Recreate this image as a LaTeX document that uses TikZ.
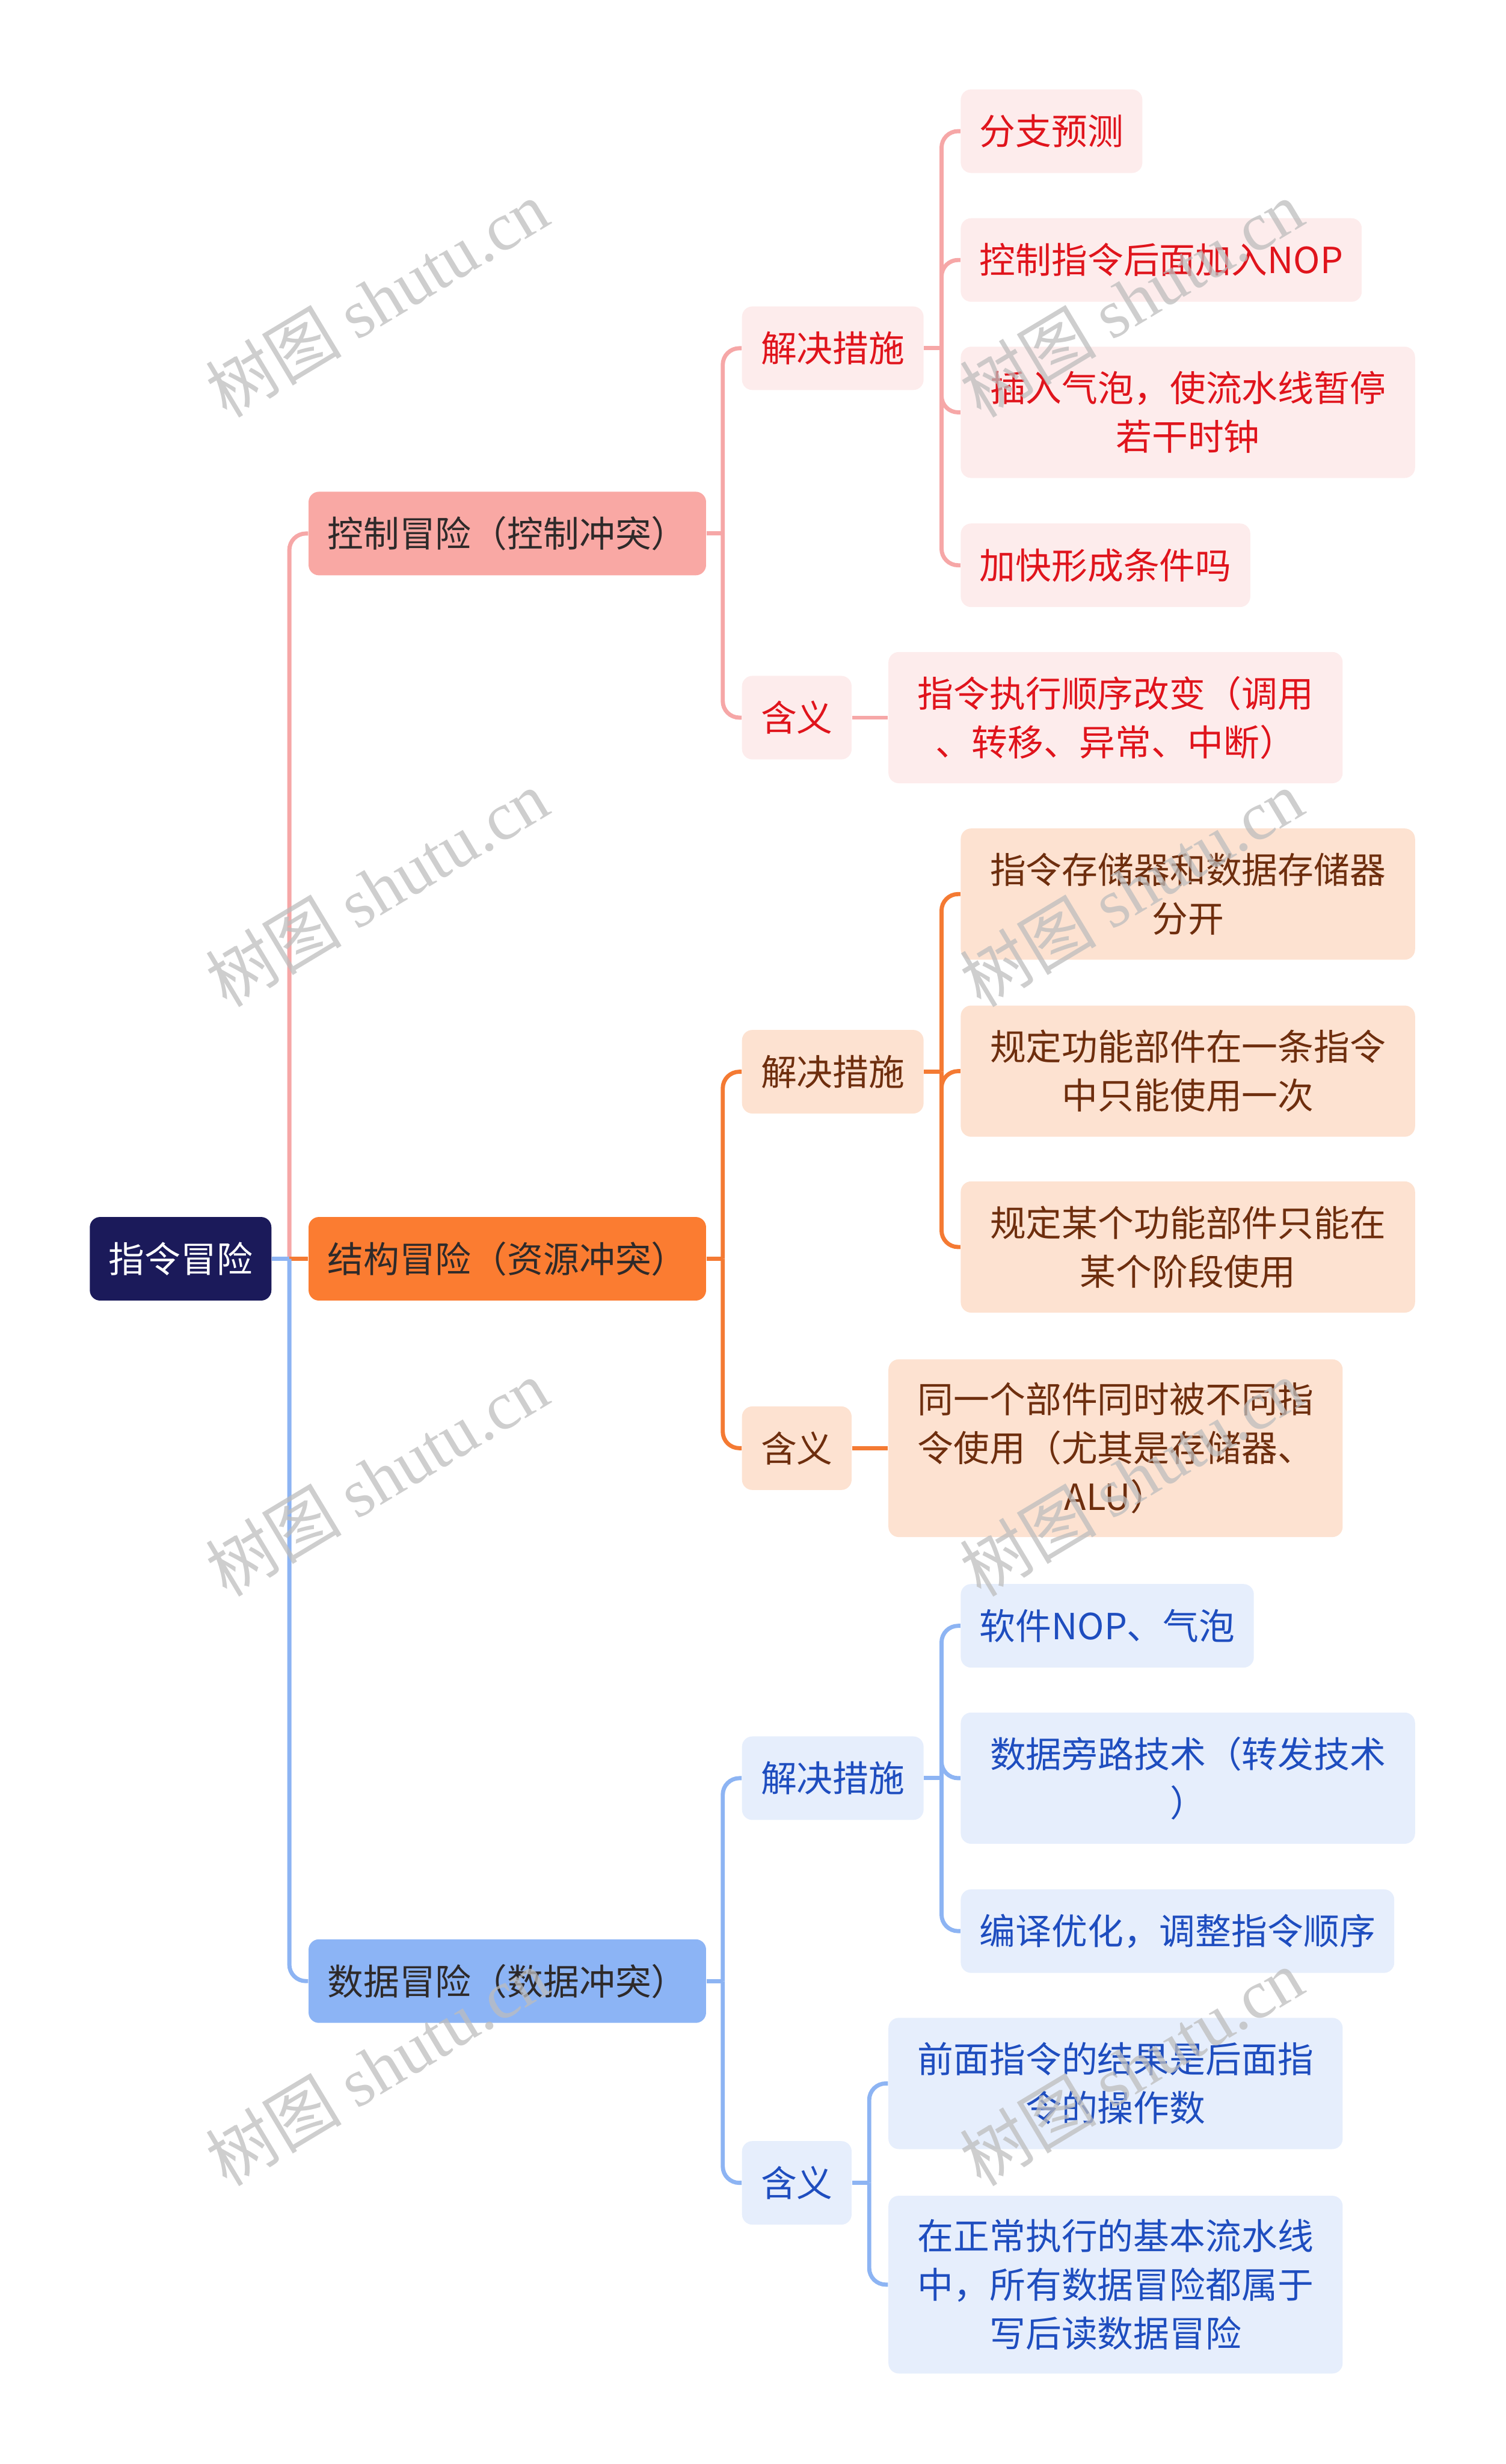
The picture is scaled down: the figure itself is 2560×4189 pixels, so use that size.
\documentclass[tikz,border=0pt]{standalone}
\usepackage{fontspec}
\setmainfont{Noto Sans CJK SC}
\newfontfamily\wmserif{Liberation Serif}

\definecolor{rootfill}{HTML}{1B1A5A}
\definecolor{pinktop}{HTML}{F9A8A4}
\definecolor{pinkline}{HTML}{F6A7A7}
\definecolor{pinksoft}{HTML}{FDECEC}
\definecolor{pinktext}{HTML}{E0141C}
\definecolor{orgtop}{HTML}{FB7C31}
\definecolor{orgline}{HTML}{F47A33}
\definecolor{orgsoft}{HTML}{FDE2D1}
\definecolor{orgtext}{HTML}{6E2E0E}
\definecolor{bluetop}{HTML}{8CB4F5}
\definecolor{blueline}{HTML}{8DB4F3}
\definecolor{bluesoft}{HTML}{E6EEFC}
\definecolor{bluetext}{HTML}{1E4DBF}
\definecolor{toptext}{HTML}{2E2A2A}
\definecolor{wmgray}{HTML}{BDBDBD}

\begin{document}
\begin{tikzpicture}[
  x=0.01cm, y=-0.01cm,
  box/.style={rounded corners=5pt, inner xsep=0.32cm, inner ysep=0pt,
    minimum height=1.42cm, anchor=west, align=center,
    font=\fontsize{17.4}{23.6}\selectfont},
  rootbox/.style={box, fill=rootfill, text=white},
  topbox/.style={box, fill=#1, text=toptext},
  subbox/.style={box, fill=#1soft, text=#1text},
  wide/.style={text width=7.08cm},
  tall/.style={minimum height=2.23cm},
  taller/.style={minimum height=3.02cm},
  edgeline/.style={draw=#1, line width=2pt, rounded corners=8pt},
  wmark/.style={rotate=31, text=wmgray, opacity=.75,
    font=\fontsize{33}{33}\selectfont}
]
\useasboundingbox (0,0) rectangle (2560,4189);

% trunk positions
\coordinate (tk0) at (492,0);
\coordinate (tk1) at (1229,0);
\coordinate (tk2) at (1601,0);
\coordinate (tk3) at (1478,0);

\node[rootbox] (root) at (152,2140) {指令冒险};

\node[topbox=pinktop] (ctl) at (524,907)  {控制冒险（控制冲突）};
\node[topbox=orgtop]  (str) at (524,2140) {结构冒险（资源冲突）};
\node[topbox=bluetop] (dat) at (524,3368) {数据冒险（数据冲突）};

\node[subbox=pink] (cfix)  at (1261,592)  {解决措施};
\node[subbox=pink] (cmean) at (1261,1220) {含义};
\node[subbox=org]  (sfix)  at (1261,1822) {解决措施};
\node[subbox=org]  (smean) at (1261,2462) {含义};
\node[subbox=blue] (dfix)  at (1261,3023) {解决措施};
\node[subbox=blue] (dmean) at (1261,3711) {含义};

\node[subbox=pink] (cfa) at (1633,223) {分支预测};
\node[subbox=pink] (cfb) at (1633,442) {控制指令后面加入NOP};
\node[subbox=pink, wide, tall] (cfc) at (1633,701) {插入气泡，使流水线暂停\\若干时钟};
\node[subbox=pink] (cfd) at (1633,961) {加快形成条件吗};
\node[subbox=pink, wide, tall] (cma) at (1510,1220) {指令执行顺序改变（调用\\、转移、异常、中断）};

\node[subbox=org, wide, tall] (sfa) at (1633,1520) {指令存储器和数据存储器\\分开};
\node[subbox=org, wide, tall] (sfb) at (1633,1821) {规定功能部件在一条指令\\中只能使用一次};
\node[subbox=org, wide, tall] (sfc) at (1633,2120) {规定某个功能部件只能在\\某个阶段使用};
\node[subbox=org, wide, taller] (sma) at (1510,2462) {同一个部件同时被不同指\\令使用（尤其是存储器、\\ALU）};

\node[subbox=blue] (dfa) at (1633,2764) {软件NOP、气泡};
\node[subbox=blue, wide, tall] (dfb) at (1633,3023) {数据旁路技术（转发技术\\）};
\node[subbox=blue] (dfc) at (1633,3283) {编译优化，调整指令顺序};
\node[subbox=blue, wide, tall] (dma) at (1510,3542) {前面指令的结果是后面指\\令的操作数};
\node[subbox=blue, wide, taller] (dmb) at (1510,3884) {在正常执行的基本流水线\\中，所有数据冒险都属于\\写后读数据冒险};

% root branches
\draw[edgeline=pinkline] (root.east -| tk0) |- (ctl.west);
\draw[edgeline=orgline] (root.east -| tk0) -- (str.west);
\draw[edgeline=blueline] (root.east -| tk0) |- (dat.west);
\draw[edgeline=blueline] (root.east) -- (root.east -| tk0);

% second level
\draw[edgeline=pinkline] (ctl.east) -- (ctl.east -| tk1);
\foreach \c in {cfix,cmean}
  \draw[edgeline=pinkline] (ctl.east -| tk1) |- (\c.west);
\draw[edgeline=orgline] (str.east) -- (str.east -| tk1);
\foreach \c in {sfix,smean}
  \draw[edgeline=orgline] (str.east -| tk1) |- (\c.west);
\draw[edgeline=blueline] (dat.east) -- (dat.east -| tk1);
\foreach \c in {dfix,dmean}
  \draw[edgeline=blueline] (dat.east -| tk1) |- (\c.west);

% leaves
\draw[edgeline=pinkline] (cfix.east) -- (cfix.east -| tk2);
\foreach \c in {cfa,cfb,cfc,cfd}
  \draw[edgeline=pinkline] (cfix.east -| tk2) |- (\c.west);
\draw[edgeline=pinkline] (cmean.east) -- (cma.west);
\draw[edgeline=orgline] (sfix.east) -- (sfix.east -| tk2);
\foreach \c in {sfa,sfb,sfc}
  \draw[edgeline=orgline] (sfix.east -| tk2) |- (\c.west);
\draw[edgeline=orgline] (smean.east) -- (sma.west);
\draw[edgeline=blueline] (dfix.east) -- (dfix.east -| tk2);
\foreach \c in {dfa,dfb,dfc}
  \draw[edgeline=blueline] (dfix.east -| tk2) |- (\c.west);
\draw[edgeline=blueline] (dmean.east) -- (dmean.east -| tk3);
\foreach \c in {dma,dmb}
  \draw[edgeline=blueline] (dmean.east -| tk3) |- (\c.west);

% watermarks
\foreach \wx/\wy [count=\i] in {641/508,1924/508,641/1510,1924/1510,641/2512,1924/2512,641/3514,1924/3514}
  \node[wmark] (wm\i) at (\wx,\wy) {树图 {\wmserif shutu.cn}};

\end{tikzpicture}
\end{document}
